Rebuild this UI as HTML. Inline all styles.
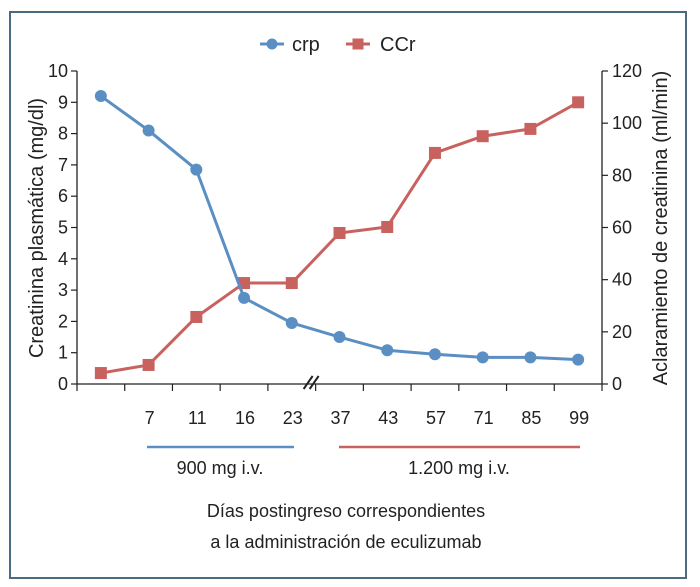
<!DOCTYPE html>
<html><head><meta charset="utf-8"><style>
html,body{margin:0;padding:0;background:#fff;}
svg{display:block;font-family:"Liberation Sans",Arial,sans-serif;}
</style></head><body>
<svg id="chart" width="700" height="587" viewBox="0 0 700 587">
<rect x="10" y="12" width="676" height="566" fill="#fff" stroke="#4a6a80" stroke-width="2"/>
<g id="legend">
 <g>
  <line x1="260" y1="44" x2="284" y2="44" stroke="#5b8fc4" stroke-width="3"/>
  <circle cx="272" cy="44" r="5.5" fill="#5b8fc4"/>
  <text x="292" y="51" font-size="20" fill="#222">crp</text>
 </g>
 <g>
  <line x1="346" y1="44" x2="370" y2="44" stroke="#c8625e" stroke-width="3"/>
  <rect x="352.5" y="38.5" width="11" height="11" fill="#c8625e"/>
  <text x="380" y="51" font-size="20" fill="#222">CCr</text>
 </g>
</g>
<g id="axes"></g>
<g id="marks"></g>
<g>
 <line x1="147" y1="447" x2="294" y2="447" stroke="#5b8fc4" stroke-width="2.5"/>
 <line x1="339" y1="447" x2="580" y2="447" stroke="#c8625e" stroke-width="2.5"/>
 <text x="220" y="474" font-size="18" text-anchor="middle" fill="#222">900 mg i.v.</text>
 <text x="459" y="474" font-size="18" text-anchor="middle" fill="#222">1.200 mg i.v.</text>
</g>
<text x="346" y="517" font-size="18" text-anchor="middle" fill="#222">Días postingreso correspondientes</text>
<text x="346" y="548" font-size="18" text-anchor="middle" fill="#222">a la administración de eculizumab</text>
<text transform="translate(43,228) rotate(-90)" font-size="20" text-anchor="middle" fill="#222">Creatinina plasmática (mg/dl)</text>
<text transform="translate(667,228) rotate(-90)" font-size="20" text-anchor="middle" fill="#222">Aclaramiento de creatinina (ml/min)</text>
</svg>
<script>
const categories = ["", "7", "11", "16", "23", "37", "43", "57", "71", "85", "99"];
const crpValues = [9.2, 8.1, 6.85, 2.75, 1.95, 1.5, 1.08, 0.95, 0.85, 0.85, 0.78];
const ccrValues = [4.2, 7.3, 25.7, 38.7, 38.7, 57.9, 60.2, 88.6, 95, 97.8, 108];
const leftTicks = [0,1,2,3,4,5,6,7,8,9,10];
const rightTicks = [0,20,40,60,80,100,120];

const NS = "http://www.w3.org/2000/svg";
const X0 = 77, X1 = 602, Y0 = 384, Y1 = 71;
const step = (X1 - X0) / categories.length;
const xPos = i => X0 + step * (i + 0.5);
const yLeft = v => Y0 - (v / 10) * (Y0 - Y1);
const yRight = v => Y0 - (v / 120) * (Y0 - Y1);
function mk(tag, attrs, parent){ const e=document.createElementNS(NS,tag); for(const k in attrs) e.setAttribute(k,attrs[k]); parent.appendChild(e); return e; }
const axes = document.getElementById('axes');
const marks = document.getElementById('marks');

let el = mk('line',{x1:X0,y1:Y1,x2:X0,y2:Y0,stroke:'#222','stroke-width':1.3},axes);


el = mk('line',{x1:X1,y1:Y1,x2:X1,y2:Y0,stroke:'#222','stroke-width':1.3},axes);


el = mk('line',{x1:X0,y1:Y0,x2:X1,y2:Y0,stroke:'#222','stroke-width':1.3},axes);



leftTicks.forEach(v=>{
  const y=yLeft(v);
  mk('line',{x1:X0-6,y1:y,x2:X0,y2:y,stroke:'#222','stroke-width':1.2},axes);
  const t=mk('text',{x:X0-9,y:y+6,'font-size':18,'text-anchor':'end',fill:'#222'},axes);
  t.textContent=v;
  
  
});
rightTicks.forEach(v=>{
  const y=yRight(v);
  mk('line',{x1:X1,y1:y,x2:X1+6,y2:y,stroke:'#222','stroke-width':1.2},axes);
  const t=mk('text',{x:X1+10,y:y+6,'font-size':18,'text-anchor':'start',fill:'#222'},axes);
  t.textContent=v;
  
  
});
for(let i=0;i<=categories.length;i++){
  const x=X0+step*i;
  mk('line',{x1:x,y1:Y0,x2:x,y2:Y0+7,stroke:'#222','stroke-width':1.2},axes);
}
categories.forEach((c,i)=>{
  if(!c) return;
  const t=mk('text',{x:xPos(i)+1,y:424,'font-size':18,'text-anchor':'middle',fill:'#222'},axes);
  t.textContent=c;
  
  
});
const bx = X0+step*5;
el = mk('path',{d:`M${bx-12},${Y0+5} L${bx-3},${Y0-8} M${bx-6},${Y0+5} L${bx+3},${Y0-8}`,stroke:'#222','stroke-width':2,fill:'none'},axes);



function series(vals, yf, color, shape, name){
  const g=mk('g',{},marks);
  
  
  const pts=vals.map((v,i)=>xPos(i)+','+yf(v)).join(' ');
  const pl=mk('polyline',{points:pts,fill:'none',stroke:color,'stroke-width':3,'stroke-linejoin':'round'},g);
  
  
  vals.forEach((v,i)=>{
    let m;
    if(shape==='circle') m=mk('circle',{cx:xPos(i),cy:yf(v),r:6,fill:color},g);
    else m=mk('rect',{x:xPos(i)-6,y:yf(v)-6,width:12,height:12,fill:color},g);
    
    
  });
}
series(ccrValues, yRight, '#c8625e', 'square', 'ccr');
series(crpValues, yLeft, '#5b8fc4', 'circle', 'crp');
</script>
</body></html>
